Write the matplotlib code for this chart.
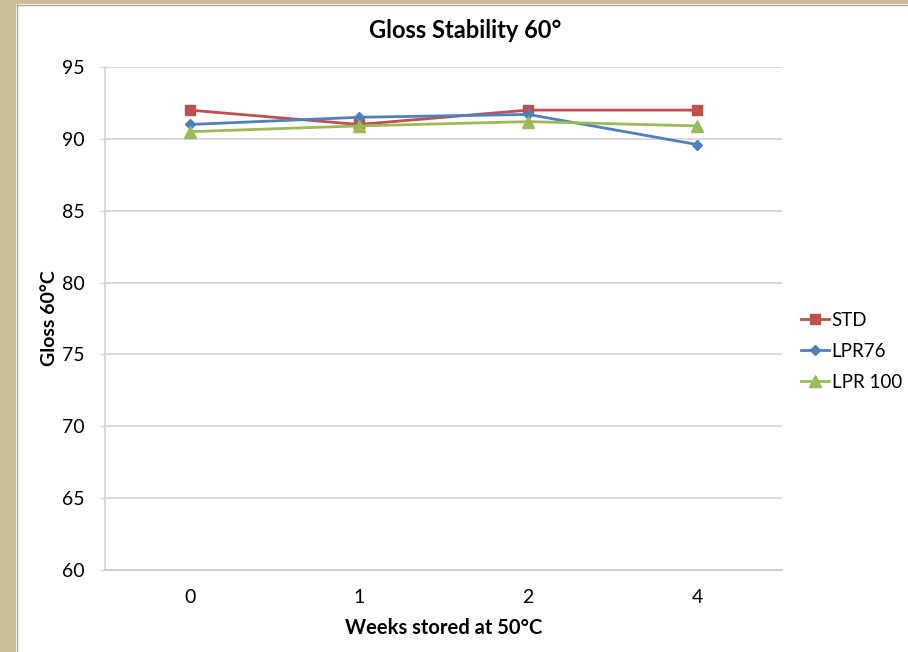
import matplotlib.pyplot as plt
from matplotlib.patches import Rectangle

plt.rcParams['font.family'] = ['Lato', 'DejaVu Sans']

# Gloss readings per storage week
weeks = ['0', '1', '2', '4']
std = [92.0, 91.0, 92.0, 92.0]
lpr76 = [91.0, 91.5, 91.7, 89.6]
lpr100 = [90.5, 90.9, 91.2, 90.9]

fig = plt.figure(figsize=(9.08, 6.52), dpi=100)

# tan frame on the left and top edges
fig.patches.append(Rectangle((0, 0), 16 / 908, 1, transform=fig.transFigure,
                             facecolor='#c8bf98', edgecolor='none', zorder=0))
fig.patches.append(Rectangle((0, 1 - 4 / 652), 1, 4 / 652, transform=fig.transFigure,
                             facecolor='#c8bf98', edgecolor='none', zorder=0))
fig.add_artist(plt.Line2D([16.5 / 908, 16.5 / 908], [0, 1 - 4 / 652], transform=fig.transFigure,
                          color='#a8a8a8', lw=1))
fig.add_artist(plt.Line2D([16.5 / 908, 1], [1 - 4.5 / 652, 1 - 4.5 / 652], transform=fig.transFigure,
                          color='#a8a8a8', lw=1))

ax = fig.add_axes([105 / 908, 1 - 570 / 652, 677 / 908, 503 / 652])
x = range(len(weeks))

ax.plot(x, std, color='#c0504d', marker='s', markersize=7, lw=2, label='STD')
ax.plot(x, lpr76, color='#4f81bd', marker='D', markersize=5.5, lw=2, label='LPR76')
ax.plot(x, lpr100, color='#9bbb59', marker='^', markersize=8, lw=2, label='LPR 100')

ax.set_xlim(-0.5, 3.5)
ax.set_ylim(60, 95)
ax.set_yticks(range(60, 96, 5))
ax.set_xticks(list(x))
ax.set_xticklabels(weeks)

ax.grid(axis='y', color='#d4d4d4', lw=1.2)
ax.set_axisbelow(True)
for side in ['top', 'right']:
    ax.spines[side].set_visible(False)
ax.spines['left'].set_color('#d4d4d4')
ax.spines['bottom'].set_color('#c8c8c8')
ax.spines['left'].set_linewidth(1.2)
ax.spines['bottom'].set_linewidth(1.2)
ax.tick_params(axis='y', length=4.5, color='#d4d4d4', labelsize=14, pad=10)
ax.tick_params(axis='x', length=0, labelsize=14, pad=14)

fig.text(465 / 908, 1 - 30 / 652, 'Gloss Stability 60°', fontsize=17, fontweight='bold',
         ha='center', va='center')
ax.set_xlabel('Weeks stored at 50°C', fontsize=14.5, fontweight='bold', labelpad=8)
ax.set_ylabel('Gloss 60°C', fontsize=14, fontweight='bold', labelpad=3)

ax.legend(loc='center left', bbox_to_anchor=(1.0, 0.435), frameon=False, fontsize=13.5,
          handlelength=1.5, handletextpad=0.15, labelspacing=0.75, borderaxespad=0.6)

fig.savefig('out.png', dpi=100)
